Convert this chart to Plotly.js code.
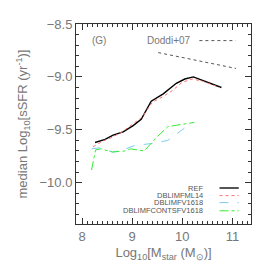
<!DOCTYPE html>
<html><head><meta charset="utf-8">
<script src="https://cdn.plot.ly/plotly-3.0.1.min.js"></script>
<style>html,body{margin:0;padding:0;background:#fff}#c{width:274px;height:274px}</style>
</head><body><div id="c"></div>
<script>
const refX = [8.26, 8.46, 8.62, 8.82, 9.02, 9.18, 9.38, 9.62, 9.88, 10.05, 10.22, 10.78];
const refY = [-9.62, -9.59, -9.55, -9.52, -9.46, -9.40, -9.23, -9.16, -9.06, -9.02, -9.0, -9.1];
const ml14X = [8.22, 8.4, 8.6, 8.8, 9.0, 9.2, 9.4, 9.6, 9.8, 10.0, 10.2, 10.4, 10.75];
const ml14Y = [-9.66, -9.61, -9.57, -9.52, -9.45, -9.38, -9.24, -9.19, -9.13, -9.05, -9.02, -9.04, -9.1];
const v1618X = [8.19, 8.35, 8.61, 8.81, 9.04, 9.37, 9.71, 10.07, 10.17];
const v1618Y = [-9.68, -9.67, -9.71, -9.69, -9.65, -9.63, -9.60, -9.47, -9.44];
const contX = [8.19, 8.27, 8.37, 8.61, 8.85, 8.97, 9.24, 9.47, 9.71, 10.24];
const contY = [-9.88, -9.69, -9.68, -9.71, -9.70, -9.68, -9.70, -9.58, -9.47, -9.43];
const doddiX = [9.52, 11.07];
const doddiY = [-8.77, -8.92];
const seriesNames = ["REF", "DBLIMFML14", "DBLIMFV1618", "DBLIMFCONTSFV1618"];

const colors = ["#000000", "#ff7070", "#80ccf0", "#33ee33"];
const dashes = ["solid", "dot", "dash", "dashdot"];
const widths = [1.4, 1, 1, 1];
const xs = [refX, ml14X, v1618X, contX];
const ys = [refY, ml14Y, v1618Y, contY];

const traces = xs.map((x, i) => ({
  x: x, y: ys[i], type: "scatter", mode: "lines", name: seriesNames[i],
  line: {color: colors[i], dash: dashes[i], width: widths[i]}, showlegend: false
}));
traces.push({x: doddiX, y: doddiY, type: "scatter", mode: "lines", name: "Doddi+07",
  line: {color: "#555", dash: "dot", width: 1}, showlegend: false});

const font = {family: "Liberation Sans, Arial, sans-serif", color: "#777", size: 13};
const legY = [0.18, 0.142, 0.107, 0.066];
const annotations = seriesNames.map((n, i) => ({
  xref: "paper", yref: "paper", x: 0.729, y: legY[i], xanchor: "right", yanchor: "middle",
  text: n, showarrow: false, borderpad: 0, font: {family: font.family, color: "#555", size: 7.5}
}));
const shapes = seriesNames.map((n, i) => ({
  type: "line", xref: "paper", yref: "paper", x0: 0.82, x1: 0.93, y0: legY[i], y1: legY[i],
  line: {color: i === 0 ? "#555" : colors[i], dash: dashes[i], width: i === 0 ? 2 : 1}
}));
annotations.push({xref: "paper", yref: "paper", x: 0.667, y: 0.917, xanchor: "right", yanchor: "middle",
  text: "Doddi+07", showarrow: false, font: {family: font.family, color: "#777", size: 10}});
shapes.push({type: "line", xref: "paper", yref: "paper", x0: 0.705, x1: 0.912, y0: 0.917, y1: 0.917,
  line: {color: "#555", dash: "dot", width: 1}});
annotations.push({xref: "paper", yref: "paper", x: 0.134, y: 0.917, xanchor: "center", yanchor: "middle",
  text: "(G)", showarrow: false, font: {family: font.family, color: "#777", size: 10}});

const layout = {
  width: 274, height: 274,
  margin: {l: 76, r: 22.5, t: 24, b: 49.5},
  paper_bgcolor: "#fff", plot_bgcolor: "#fff",
  font: font,
  xaxis: {
    range: [7.88, 11.37], tickvals: [8, 9, 10, 11], ticktext: ["8", "9", "10", "11"],
    ticks: "inside", ticklen: 6, tickcolor: "#333", showline: true, linecolor: "#333", linewidth: 1,
    mirror: "allticks", showgrid: false, zeroline: false,
    minor: {dtick: 0.1, tick0: 8, ticks: "inside", ticklen: 3, tickcolor: "#333", showgrid: false},
    tickfont: {size: 13, color: "#777"},
    title: {text: "Log<sub>10</sub>[M<sub>star</sub> (M<sub>⊙</sub>)]", font: {size: 13, color: "#777"}, standoff: 5}
  },
  yaxis: {
    range: [-10.39, -8.5], tickvals: [-10, -9.5, -9, -8.5], ticktext: ["\u221210.0", "\u22129.5", "\u22129.0", "\u22128.5"],
    ticks: "inside", ticklen: 6, tickcolor: "#333", showline: true, linecolor: "#333", linewidth: 1,
    mirror: "allticks", showgrid: false, zeroline: false,
    minor: {dtick: 0.1, tick0: -10, ticks: "inside", ticklen: 3, tickcolor: "#333", showgrid: false},
    tickfont: {size: 13, color: "#777"},
    title: {text: "median Log<sub>10</sub>[sSFR (yr<sup>-1</sup>)]", font: {size: 13, color: "#777"}, standoff: 8}
  },
  annotations: annotations,
  shapes: shapes,
  showlegend: false
};
Plotly.newPlot("c", traces, layout, {staticPlot: true, displayModeBar: false});
</script></body></html>
